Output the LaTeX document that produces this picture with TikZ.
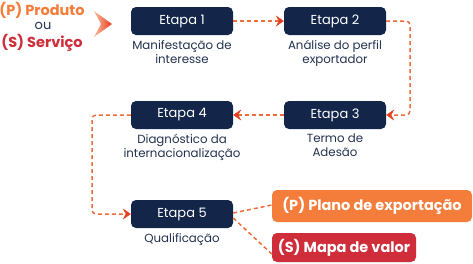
\documentclass[tikz,border=0pt]{standalone}
\usepackage{fontspec}
\setmainfont{Poppins}
\usetikzlibrary{arrows.meta,calc}
\definecolor{navy}{HTML}{13264A}
\definecolor{capc}{HTML}{22324F}
\definecolor{orng}{HTML}{F57D3B}
\definecolor{redc}{HTML}{CF2D39}
\definecolor{dashc}{HTML}{F06B3C}
\definecolor{tipc}{HTML}{E4401E}
\tikzset{
  stepbox/.style={fill=navy, rounded corners=5pt, minimum width=102pt, minimum height=28pt, inner sep=0pt, text=white, font=\fontsize{13}{15}\selectfont},
  caption/.style={text=capc, align=center, font=\fontsize{11.8}{14}\selectfont, inner sep=0pt},
  flow/.style={draw=dashc, line width=1.5pt, dash pattern=on 4pt off 3pt, rounded corners=4pt},
  flowarr/.style={flow, -{Stealth[length=8pt,width=11pt,inset=3pt,color=tipc,fill=tipc,line width=0.5pt]}},
  outbox/.style={rounded corners=5pt, text=white, inner sep=0pt, font=\fontsize{14.5}{16}\selectfont\bfseries},
}
\begin{document}
\begin{tikzpicture}[x=1pt,y=-1pt]
\useasboundingbox (0,0) rectangle (473,263);
% left labels
\node[text=orng, font=\fontsize{14.5}{16}\selectfont\bfseries, inner sep=0pt] (prod) at (42,10) {(P) Produto};
\node[text=capc, font=\fontsize{13}{15}\selectfont, inner sep=0pt] (ou) at (43,26) {ou};
\node[text=redc, font=\fontsize{14.5}{16}\selectfont\bfseries, inner sep=0pt] (serv) at (42,43) {(S) Serviço};
% chevron
\shade[left color=orng!50, right color=tipc!90!red] (94,11) -- (112,24) -- (94,37) -- (101,24) -- cycle;
% steps
\node[stepbox] (e1) at (182,21) {Etapa 1};
\node[stepbox] (e2) at (335,21) {Etapa 2};
\node[stepbox] (e3) at (335,115) {Etapa 3};
\node[stepbox] (e4) at (182,115) {Etapa 4};
\node[stepbox] (e5) at (182,214) {Etapa 5};
% captions
\node[caption, anchor=north] (c1) at (182,40) {Manifestação de\\interesse};
\node[caption, anchor=north] (c2) at (335,40) {Análise do perfil\\exportador};
\node[caption, anchor=north] (c3) at (335,134) {Termo de\\Adesão};
\node[caption, anchor=north] (c4) at (182,134) {Diagnóstico da\\internacionalização};
\node[caption, anchor=north] (c5) at (182,233) {Qualificação};
% outputs
\node[outbox, fill=orng, minimum width=200pt, minimum height=32pt] (pl) at (372,206) {(P) Plano de exportação};
\node[outbox, fill=redc, minimum width=144pt, minimum height=29pt] (mv) at (344,247.5) {(S) Mapa de valor};
% connectors
\draw[flowarr] (e1.east) -- (e2.west);
\draw[flowarr] (e2.east) -- (410,21) -- (410,115) -- (e3.east);
\draw[flowarr] (e3.west) -- (e4.east);
\draw[flowarr] (e4.west) -- (92,115) -- (92,214) -- (e5.west);
\draw[flow] ($(e5.east)+(0,-1)$) -- (pl.west |- 0,205);
\draw[flow] ($(e5.east)+(0,4)$) -- (mv.west |- 0,254);
\end{tikzpicture}
\end{document}
